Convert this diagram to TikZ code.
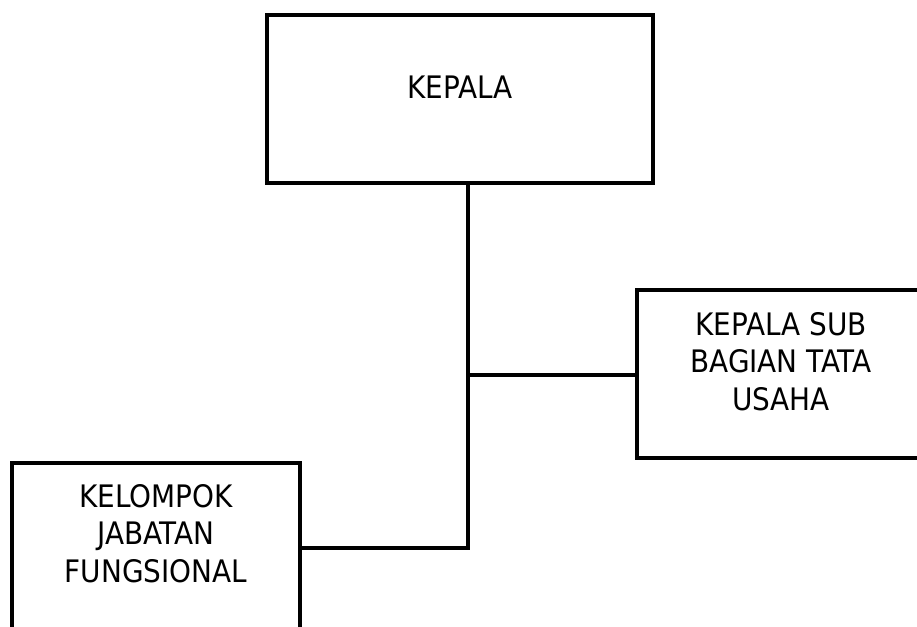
\documentclass[tikz,border=0pt]{standalone}
\usepackage{fontspec}
\setmainfont{DejaVu Sans Condensed}
\begin{document}
\begin{tikzpicture}[x=1pt,y=-1pt,
  box/.style={draw=black, line width=4.5pt, fill=white, inner sep=0pt},
  lbl/.style={font=\fontsize{31}{37.5}\selectfont, align=center, inner sep=0pt, anchor=base},
  conn/.style={draw=black, line width=4.5pt, line join=miter}]
\useasboundingbox (0,0) rectangle (917,626);
\clip (0,0) rectangle (917,626);
\node[box, minimum width=386pt, minimum height=168pt] (kepala) at (460,99) {};
\node[box, minimum width=288pt, minimum height=168pt] (sub) at (781,374) {};
\node[box, minimum width=288pt, minimum height=168pt] (kjf) at (156,547) {};
\node[lbl] (tkepala) at (460,98) {KEPALA};
\node[lbl] (tsub) at (781,410) {KEPALA SUB\\BAGIAN TATA\\USAHA};
\node[lbl] (tkjf) at (156,582) {KELOMPOK\\JABATAN\\FUNGSIONAL};
\coordinate (j1) at (468,375);
\coordinate (j2) at (468,548);
\draw[conn] (kepala.south -| j2) -- (j2) -- (kjf.east |- j2);
\draw[conn] (j1) -- (sub.west |- j1);
\end{tikzpicture}
\end{document}
